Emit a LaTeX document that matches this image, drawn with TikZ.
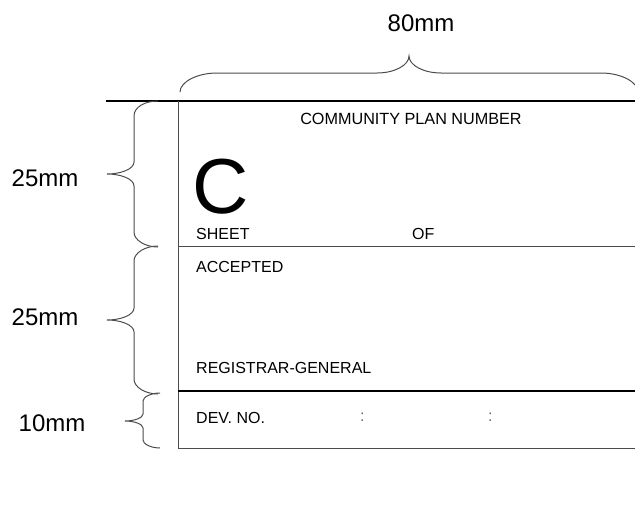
\documentclass[tikz,border=0pt]{standalone}
\usepackage{fontspec}
\setmainfont{Liberation Sans}

\begin{document}
\begin{tikzpicture}[x=1pt,y=1pt,
                    field/.style={font=\fontsize{16}{19}\selectfont,inner sep=0pt,anchor=base west},
                    size label/.style={font=\fontsize{24}{29}\selectfont,inner sep=0pt},
                    rule/.style={black!70,line width=1pt},
                    curly/.style={black!70,line width=1pt}]
  \useasboundingbox (0,0) rectangle (635,-506);

  % panel corners and row lines
  \coordinate (edge left) at (106,-101);
  \coordinate (top left) at (178,-101);
  \coordinate (top right) at (635,-101);
  \coordinate (sheet left) at (178,-246);
  \coordinate (sheet right) at (635,-246);
  \coordinate (reg left) at (178,-391);
  \coordinate (reg right) at (635,-391);
  \coordinate (bottom left) at (178,-448);
  \coordinate (bottom right) at (635,-448);

  \draw[black,line width=1.2pt] (edge left) -- (top right);
  \draw[rule] (top left) -- (bottom left);
  \draw[rule] (sheet left) -- (sheet right);
  \draw[black,line width=1.6pt] (reg left) -- (reg right);
  \draw[rule] (bottom left) -- (bottom right);

  % texts in the panel
  \node[field,anchor=base,font=\fontsize{16.2}{19}\selectfont] (plan) at (411,-124) {COMMUNITY PLAN NUMBER};
  \node[field,font=\fontsize{78}{88}\selectfont] (prefix) at (192,-213) {C};
  \node[field] (sheet) at (196,-239) {SHEET};
  \node[field] (of) at (412,-239) {OF};
  \node[field] (accepted) at (196,-272) {ACCEPTED};
  \node[field] (registrar) at (196,-373) {REGISTRAR-GENERAL};
  \node[field] (dev) at (196,-423) {DEV. NO.};
  \node[field,black!60] (colon a) at (360,-421) {:};
  \node[field,black!60] (colon b) at (488,-421) {:};

  % dimensions
  \coordinate (width from) at (180,-92);
  \coordinate (width to) at (638,-92);
  \draw[curly] (width from) .. controls (180,-82) and (197,-73) .. (217,-73) -- (377,-73)
    .. controls (395,-73) and (409,-65) .. (409,-56) .. controls (409,-65) and (423,-73) .. (441,-73)
    -- (601,-73) .. controls (621,-73) and (638,-82) .. (width to);
  \node[size label] (width) at (421,-23) {80mm};

  \coordinate (row a high) at (158,-101);
  \coordinate (row a low) at (158,-247);
  \coordinate (row b high) at (158,-246);
  \coordinate (row b low) at (158,-394);
  \coordinate (row c high) at (160,-393);
  \coordinate (row c low) at (160,-448);
  \draw[curly] (row a high) .. controls (145,-101) and (134,-107) .. (134,-116) -- (134,-162)
    .. controls (134,-169) and (121,-174) .. (107,-174) .. controls (121,-174) and (134,-179) .. (134,-186)
    -- (134,-232) .. controls (134,-240) and (145,-247) .. (row a low);
  \draw[curly] (row b high) .. controls (145,-246) and (134,-253) .. (134,-261) -- (134,-308)
    .. controls (134,-315) and (121,-320) .. (107,-320) .. controls (121,-320) and (134,-325) .. (134,-332)
    -- (134,-379) .. controls (134,-387) and (145,-394) .. (row b low);
  \draw[curly] (row c high) .. controls (151,-393) and (143,-397) .. (143,-401) -- (143,-414)
    .. controls (143,-418) and (134,-421) .. (125,-421) .. controls (134,-421) and (143,-424) .. (143,-428)
    -- (143,-440) .. controls (143,-444) and (151,-448) .. (row c low);
  \node[size label] (height a) at (45,-178) {25mm};
  \node[size label] (height b) at (45,-317) {25mm};
  \node[size label] (height c) at (52,-423) {10mm};
\end{tikzpicture}
\end{document}
